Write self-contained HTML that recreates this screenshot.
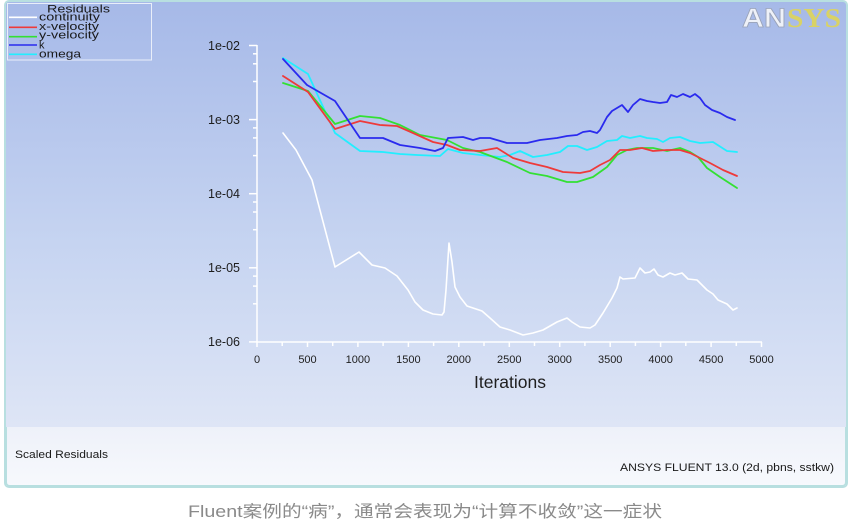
<!DOCTYPE html>
<html><head><meta charset="utf-8"><style>
html,body{margin:0;padding:0;background:#fff;}
svg{display:block;}
</style></head><body>
<svg width="850" height="528" viewBox="0 0 850 528" xmlns="http://www.w3.org/2000/svg" font-family="'Liberation Sans', Arial, sans-serif">
<defs>
<linearGradient id="bg" x1="0" y1="0" x2="0" y2="1">
<stop offset="0" stop-color="#a6b9e8"/>
<stop offset="0.5" stop-color="#c6d4f1"/>
<stop offset="1" stop-color="#e6ebf7"/>
</linearGradient>
<linearGradient id="bg2" x1="0" y1="0" x2="0" y2="1">
<stop offset="0" stop-color="#eef1f9"/>
<stop offset="1" stop-color="#f7f9fd"/>
</linearGradient>
</defs>
<rect x="0" y="0" width="850" height="528" fill="#fff"/>
<!-- frame -->
<rect x="5" y="1" width="842" height="486" rx="4" ry="4" fill="url(#bg)" stroke="#b8dfe0" stroke-width="2"/>
<rect x="6" y="427" width="840" height="59" fill="url(#bg2)"/>
<path d="M6 427 V482 Q6 486 10 486 H842 Q846 486 846 482 V427" fill="none" stroke="#b8dfe0" stroke-width="2"/>

<!-- legend -->
<rect x="7.5" y="3.5" width="144" height="56.5" fill="none" stroke="#e9eef9" stroke-width="1"/>
<text x="47" y="12.7" font-size="11" fill="#1a1a1a" textLength="63" lengthAdjust="spacingAndGlyphs">Residuals</text>
<line x1="9" y1="17.3" x2="37" y2="17.3" stroke="#ffffff" stroke-width="1.6"/>
<line x1="9" y1="27.3" x2="37" y2="27.3" stroke="#ee3a3a" stroke-width="1.6"/>
<line x1="9" y1="36.7" x2="37" y2="36.7" stroke="#33e033" stroke-width="1.6"/>
<line x1="9" y1="45" x2="37" y2="45" stroke="#2a2aee" stroke-width="1.6"/>
<line x1="9" y1="54.3" x2="37" y2="54.3" stroke="#22eeff" stroke-width="1.6"/>
<text x="39" y="20.5" font-size="11" fill="#1a1a1a" textLength="61" lengthAdjust="spacingAndGlyphs">continuity</text>
<text x="39" y="30" font-size="11" fill="#1a1a1a" textLength="60" lengthAdjust="spacingAndGlyphs">x-velocity</text>
<text x="39" y="38.5" font-size="11" fill="#1a1a1a" textLength="60" lengthAdjust="spacingAndGlyphs">y-velocity</text>
<text x="39" y="48.5" font-size="11" fill="#1a1a1a">k</text>
<text x="39" y="57.5" font-size="11" fill="#1a1a1a" textLength="42" lengthAdjust="spacingAndGlyphs">omega</text>

<!-- ANSYS logo -->
<text x="742" y="27" font-size="27" font-weight="bold" fill="#eef1f8" stroke="#9aa3b8" stroke-width="0.8" textLength="44" lengthAdjust="spacingAndGlyphs">AN</text>
<text x="787" y="27" font-family="'Liberation Serif', serif" font-size="27" font-weight="bold" fill="#d9d266" textLength="54" lengthAdjust="spacingAndGlyphs">SYS</text>

<!-- axes -->
<g stroke="#ffffff" stroke-width="1.5" fill="none">
<line x1="257" y1="45" x2="257" y2="342.5"/>
<line x1="256.3" y1="342" x2="762" y2="342"/>
<line x1="249" y1="45.5" x2="257" y2="45.5"/>
<line x1="249" y1="119.6" x2="257" y2="119.6"/>
<line x1="249" y1="193.7" x2="257" y2="193.7"/>
<line x1="249" y1="267.8" x2="257" y2="267.8"/>
<line x1="249" y1="341.9" x2="257" y2="341.9"/>
<line x1="253" y1="53.8" x2="257" y2="53.8"/><line x1="253" y1="63.8" x2="257" y2="63.8"/><line x1="253" y1="81.5" x2="257" y2="81.5"/>
<line x1="253" y1="127.9" x2="257" y2="127.9"/><line x1="253" y1="137.9" x2="257" y2="137.9"/><line x1="253" y1="155.6" x2="257" y2="155.6"/>
<line x1="253" y1="202" x2="257" y2="202"/><line x1="253" y1="212" x2="257" y2="212"/><line x1="253" y1="229.7" x2="257" y2="229.7"/>
<line x1="253" y1="276.1" x2="257" y2="276.1"/><line x1="253" y1="286.1" x2="257" y2="286.1"/><line x1="253" y1="303.8" x2="257" y2="303.8"/>
<line x1="257" y1="342" x2="257" y2="347"/><line x1="282.2" y1="342" x2="282.2" y2="346"/>
<line x1="307.5" y1="342" x2="307.5" y2="347"/><line x1="332.7" y1="342" x2="332.7" y2="346"/>
<line x1="357.9" y1="342" x2="357.9" y2="347"/><line x1="383.1" y1="342" x2="383.1" y2="346"/>
<line x1="408.4" y1="342" x2="408.4" y2="347"/><line x1="433.6" y1="342" x2="433.6" y2="346"/>
<line x1="458.8" y1="342" x2="458.8" y2="347"/><line x1="484" y1="342" x2="484" y2="346"/>
<line x1="509.3" y1="342" x2="509.3" y2="347"/><line x1="534.5" y1="342" x2="534.5" y2="346"/>
<line x1="559.7" y1="342" x2="559.7" y2="347"/><line x1="584.9" y1="342" x2="584.9" y2="346"/>
<line x1="610.2" y1="342" x2="610.2" y2="347"/><line x1="635.4" y1="342" x2="635.4" y2="346"/>
<line x1="660.6" y1="342" x2="660.6" y2="347"/><line x1="685.8" y1="342" x2="685.8" y2="346"/>
<line x1="711.1" y1="342" x2="711.1" y2="347"/><line x1="736.3" y1="342" x2="736.3" y2="346"/>
<line x1="761.5" y1="342" x2="761.5" y2="347"/>
</g>

<!-- y labels -->
<g font-size="12.5" fill="#1e1e1e" text-anchor="end">
<text x="240" y="50">1e-02</text>
<text x="240" y="124">1e-03</text>
<text x="240" y="198">1e-04</text>
<text x="240" y="272">1e-05</text>
<text x="240" y="346">1e-06</text>
</g>
<!-- x labels -->
<g font-size="11" fill="#1e1e1e" text-anchor="middle">
<text x="257" y="363">0</text>
<text x="307.5" y="363">500</text>
<text x="357.9" y="363">1000</text>
<text x="408.4" y="363">1500</text>
<text x="458.8" y="363">2000</text>
<text x="509.3" y="363">2500</text>
<text x="559.7" y="363">3000</text>
<text x="610.2" y="363">3500</text>
<text x="660.6" y="363">4000</text>
<text x="711.1" y="363">4500</text>
<text x="761.5" y="363">5000</text>
</g>
<text x="510" y="388" font-size="17.5" fill="#1e1e1e" text-anchor="middle">Iterations</text>

<!-- series -->
<g fill="none" stroke-linejoin="round" stroke-linecap="round">
<polyline stroke="#ffffff" stroke-width="1.6" points="283,133 296,150 312,180 335,267 359,252 372,265 385,268 397,276 408,290 415,302 423,310 433,314 442,315 444,312 446,290 449,243 452,262 455,287 460,297 467,306 473,308 482,311 490,318 500,327 510,330 523,335 533,333 543,330 557,322 567,318 572,322 580,327 590,328 595,325 603,313 612,298 617,288 620,277 623,279 635,278 640,268 645,273 650,272 654,269 658,275 663,277 670,273 675,275 682,273 688,279 697,280 702,285 707,290 713,294 718,300 727,304 733,310 737,308"/>
<polyline stroke="#22eeff" stroke-width="1.8" points="283,58 308,74 335,133 360,151 383,152 400,154 417,155 440,156 448,149 463,153 480,155 500,157 510,155 520,151 533,157 547,155 560,152 568,146 577,146 587,150 597,147 607,141 617,140 622,136 630,138 640,136 647,138 657,139 663,142 670,138 680,137 690,141 700,143 713,142 727,151 737,152"/>
<polyline stroke="#33e033" stroke-width="1.8" points="283,83 308,91 335,124 360,116 380,118 400,125 420,135 447,140 463,148 480,152 507,162 530,173 547,176 567,182 577,182 593,177 607,167 617,155 627,150 637,148 653,148 667,151 680,148 690,152 698,157 707,168 720,177 737,188"/>
<polyline stroke="#ee3a3a" stroke-width="1.8" points="283,76 308,92 335,129 360,121 380,125 397,126 413,133 433,142 447,145 460,150 480,151 497,148 513,158 530,163 547,167 563,172 580,173 590,171 600,165 610,160 620,150 630,150 642,148 653,151 667,150 680,150 690,153 700,158 710,163 723,170 737,176"/>
<polyline stroke="#2a2aee" stroke-width="1.8" points="283,59 307,85 335,101 360,138 383,138 400,145 420,148 435,151 443,148 448,138 463,137 473,140 480,138 490,138 507,143 527,143 540,140 557,138 567,136 577,135 583,132 590,131 597,133 600,130 607,117 612,111 622,105 628,112 633,105 640,99 647,101 653,102 660,103 667,102 671,95 677,97 683,94 690,97 695,94 700,98 705,105 712,110 720,113 727,117 735,120"/>
</g>

<!-- footer texts -->
<text x="15" y="458" font-size="11" fill="#1a1a1a" textLength="93" lengthAdjust="spacingAndGlyphs">Scaled Residuals</text>
<text x="834" y="471" font-size="11" fill="#1a1a1a" text-anchor="end" textLength="214" lengthAdjust="spacingAndGlyphs">ANSYS FLUENT 13.0 (2d, pbns, sstkw)</text>

<!-- caption -->
<text x="188" y="517" font-family="'Liberation Sans', 'Noto Sans CJK SC', sans-serif" font-size="16.5" fill="#8a8a8a" textLength="474" lengthAdjust="spacingAndGlyphs">Fluent案例的“病”，通常会表现为“计算不收敛”这一症状</text>
</svg>
</body></html>
